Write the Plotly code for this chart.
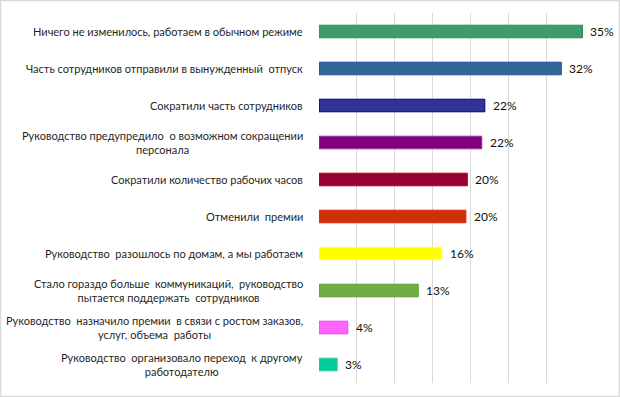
import plotly.graph_objects as go

categories = [
    "Ничего не изменилось, работаем в обычном режиме",
    "Часть сотрудников отправили в вынужденный  отпуск",
    "Сократили часть сотрудников",
    "Руководство предупредило  о возможном сокращении<br>персонала",
    "Сократили количество рабочих часов",
    "Отменили  премии",
    "Руководство  разошлось по домам, а мы работаем",
    "Стало гораздо больше  коммуникаций,  руководство<br>пытается поддержать  сотрудников",
    "Руководство  назначило премии  в связи с ростом заказов,<br>услуг, объема  работы",
    "Руководство  организовало переход  к другому<br>работодателю",
]
values = [34.8, 32.0, 21.9, 21.5, 19.6, 19.4, 16.2, 13.1, 3.8, 2.4]
value_labels = ["35%", "32%", "22%", "22%", "20%", "20%", "16%", "13%", "4%", "3%"]
fill_colors = ["#3A9D6A", "#336699", "#333399", "#800080", "#990033",
               "#CC3300", "#FFFF00", "#70AD47", "#FF66FF", "#00CC99"]
line_colors = ["#2E8B57", "#1F4E99", "#000080", "#993399", "#C00000",
               "#E02020", "#FFFF66", "#5B9B30", "#FF33FF", "#33CC99"]

fig = go.Figure(go.Bar(
    y=categories, x=values, orientation="h",
    marker=dict(color=fill_colors, line=dict(color=line_colors, width=1)),
    width=0.34,
    hoverinfo="skip",
))

annotations = []
for c in categories:
    annotations.append(dict(
        x=0, xref="paper", y=c, yref="y", xanchor="right", yanchor="middle",
        xshift=-14, text=c, showarrow=False, align="center",
        font=dict(family="Lato", size=11, color="#1f1f1f"),
    ))
for c, v, lab in zip(categories, values, value_labels):
    annotations.append(dict(
        x=v, xref="x", y=c, yref="y", xanchor="left", yanchor="middle",
        xshift=6, text=lab, showarrow=False,
        font=dict(family="Lato", size=12, color="#111111"),
    ))

fig.update_layout(
    width=620, height=397,
    margin=dict(l=319, r=36, t=13, b=14),
    paper_bgcolor="white", plot_bgcolor="white",
    showlegend=False,
    annotations=annotations,
    xaxis=dict(range=[0, 35], dtick=5, showticklabels=False, showgrid=True,
               gridcolor="#D9D9D9", gridwidth=1, zeroline=False, fixedrange=True),
    yaxis=dict(autorange="reversed", showticklabels=False, showgrid=False,
               zeroline=False, fixedrange=True),
    shapes=[dict(type="rect", xref="paper", yref="paper",
                 x0=-318.5/265, x1=1 + 35.5/265, y0=-13.5/370, y1=1 + 12.5/370,
                 line=dict(color="#D9D9D9", width=1.5), layer="below")],
)

fig.write_html("out.html", post_script="document.body.style.margin='0';",
               config={"displayModeBar": False})
